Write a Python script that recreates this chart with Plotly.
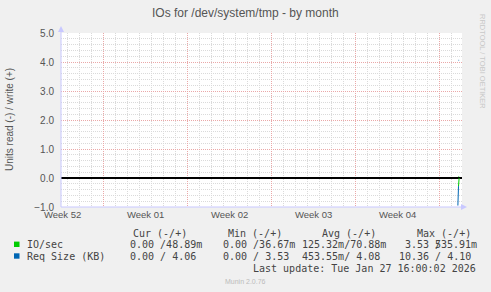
import plotly.graph_objects as go

# ---- data ----
dates = ["2026-01-27 12:45", "2026-01-27 14:00", "2026-01-27 15:15"]
io_read = [None, 0.28, 0.0]        # plotted negative
io_write = [None, 0.049, 0.049]
req_read = [0.95, 0.28, None]      # plotted negative
req_write = [None, 4.06, 4.06]

week_starts = ["2025-12-29", "2026-01-05", "2026-01-12", "2026-01-19", "2026-01-26"]
week_label_pos = ["2025-12-25 14:00", "2026-01-01 12:00", "2026-01-08 12:00",
                  "2026-01-15 12:00", "2026-01-22 12:00"]
week_labels = ["Week 52", "Week 01", "Week 02", "Week 03", "Week 04"]
x_range = ["2025-12-25 11:00", "2026-01-27 21:00"]

legend_names = ["IO/sec", "Req Size (KB)"]
legend_colors = ["#00cc00", "#0066b3"]
cur_vals = ["0.00 /48.89m", "0.00 / 4.06"]
min_vals = ["0.00 /36.67m", "0.00 / 3.53"]
avg_vals = ["125.32m/70.88m", "453.55m/ 4.08"]
max_read = [" 3.53 /", "10.36 / 4.10"]
max_write = ["535.91m", ""]

# ---- layout geometry ----
W, H = 491, 292
L, R, T, B = 61, 462, 33, 207
PW, PH = R - L, B - T


def xp(px):
    return (px - L) / PW


def yp(py):
    return (B - py) / PH


MONO = "DejaVu Sans Mono"
SANS = "Liberation Sans"
TXT = "#444444"

fig = go.Figure()
fig.add_trace(go.Scatter(x=dates, y=[None if v is None else -v for v in io_read],
                         mode="lines", line=dict(color=legend_colors[0], width=1),
                         connectgaps=False))
fig.add_trace(go.Scatter(x=dates, y=io_write, mode="lines",
                         line=dict(color=legend_colors[0], width=1)))
fig.add_trace(go.Scatter(x=dates, y=[None if v is None else -v for v in req_read],
                         mode="lines", line=dict(color=legend_colors[1], width=1)))
fig.add_trace(go.Scatter(x=dates, y=req_write, mode="lines",
                         line=dict(color=legend_colors[1], width=1)))

annotations = []


def ann(text, px, py, size=10, color=TXT, family=MONO, xanchor="left", textangle=0,
        xref="paper", x=None):
    annotations.append(dict(
        text=text, x=xp(px) if x is None else x, y=yp(py), xref=xref, yref="paper",
        xanchor=xanchor, yanchor="middle", showarrow=False, textangle=textangle,
        font=dict(family=family, size=size, color=color), borderpad=0, borderwidth=0))


# title
ann("IOs for /dev/system/tmp - by month", 245, 12.5, size=12, family=SANS,
    color="#555555", xanchor="center")
# y-axis title
ann("Units read (-) / write (+)", 9, 120, size=10, family=SANS, color="#555555",
    xanchor="center", textangle=-90)
# rrdtool credit
ann("RRDTOOL / TOBI OETIKER", 483, 61, size=7.5, family=SANS, color="#c8c8c8",
    xanchor="center", textangle=90)
# week labels
for pos, lab in zip(week_label_pos, week_labels):
    ann(lab, 0, 214.5, size=9.5, family=SANS, color="#555555", xanchor="center",
        xref="x", x=pos)

# legend
ann("Cur (-/+)", 133.3, 233.3)
ann("Min (-/+)", 228.3, 233.3)
ann("Avg (-/+)", 321.7, 233.3)
ann("Max (-/+)", 416.7, 233.3)
rows_y = [244.3, 256]
for i in range(2):
    ann(legend_names[i], 26.7, rows_y[i])
    ann(cur_vals[i], 130, rows_y[i])
    ann(min_vals[i], 222.7, rows_y[i])
    ann(avg_vals[i], 301.7, rows_y[i])
    ann(max_read[i], 399, rows_y[i])
    if max_write[i]:
        ann(max_write[i], 477, rows_y[i], xanchor="right")
ann("Last update: Tue Jan 27 16:00:02 2026", 476, 268.3, xanchor="right")
ann("Munin 2.0.76", 245, 281.7, size=7, family=SANS, color="#bbbbbb", xanchor="center")

shapes = []
# legend swatches
for i, yy in enumerate([244.3, 256]):
    shapes.append(dict(type="rect", xref="paper", yref="paper",
                       x0=xp(14), x1=xp(19.5), y0=yp(yy - 2.7), y1=yp(yy + 2.7),
                       fillcolor=legend_colors[i], line=dict(width=0), layer="above"))
AX = "#c8c8ff"
# axis lines + arrows
shapes.append(dict(type="line", xref="paper", yref="paper", x0=xp(L), x1=xp(L),
                   y0=yp(B), y1=yp(29), line=dict(color=AX, width=1), layer="above"))
shapes.append(dict(type="line", xref="paper", yref="paper", x0=xp(L), x1=xp(465),
                   y0=yp(B), y1=yp(B), line=dict(color=AX, width=1), layer="above"))
shapes.append(dict(type="path", xref="paper", yref="paper",
                   path=f"M {xp(L-3)} {yp(32)} L {xp(L+3)} {yp(32)} L {xp(L)} {yp(26)} Z",
                   fillcolor=AX, line=dict(width=0), layer="above"))
shapes.append(dict(type="path", xref="paper", yref="paper",
                   path=f"M {xp(461)} {yp(B-3)} L {xp(461)} {yp(B+3)} L {xp(467)} {yp(B)} Z",
                   fillcolor=AX, line=dict(width=0), layer="above"))

MAJ = "#eaa8a8"
MIN = "#dadada"
fig.update_layout(
    width=W, height=H,
    margin=dict(l=L, r=W - R, t=T, b=H - B, pad=0),
    paper_bgcolor="#f0f0f0", plot_bgcolor="#ffffff",
    showlegend=False, hovermode=False,
    annotations=annotations, shapes=shapes,
    xaxis=dict(type="date", range=x_range, tickmode="array", tickvals=week_starts,
               showticklabels=False, ticks="", showline=False, zeroline=False,
               showgrid=True, gridcolor=MAJ, griddash="1px,1px", gridwidth=1,
               minor=dict(dtick=86400000, tick0="2025-12-29", showgrid=True,
                          gridcolor=MIN, griddash="1px,1px", gridwidth=1, ticks="")),
    yaxis=dict(range=[-1, 5], tickmode="linear", tick0=0, dtick=1, tickformat=".1f",
               ticks="", showline=False, ticklabelstandoff=6,
               tickfont=dict(family=SANS, size=10, color="#555555"),
               showgrid=True, gridcolor=MAJ, griddash="1px,1px", gridwidth=1,
               zeroline=True, zerolinecolor="#000000", zerolinewidth=1.5,
               minor=dict(dtick=0.2, showgrid=True, gridcolor=MIN,
                          griddash="1px,1px", gridwidth=1, ticks="")),
)

fig.write_html("out.html")
